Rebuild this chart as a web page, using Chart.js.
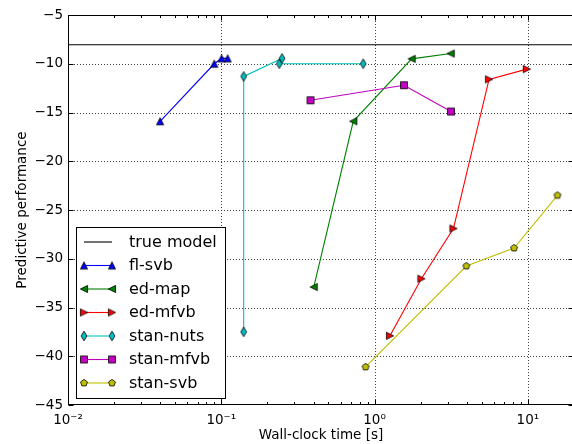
<!DOCTYPE html>
<html><head><meta charset="utf-8">
<script src="https://cdn.jsdelivr.net/npm/chart.js@4/dist/chart.umd.min.js"></script>
<style>html,body{margin:0;padding:0;background:#fff;overflow:hidden}#wrap{width:572px;height:444px;overflow:hidden}</style>
</head><body><div id="wrap"><canvas id="c" width="574" height="444"></canvas></div>
<script>
// ---- data ----
const trueModelY = -8.05;
const trueModelX = [0.01, 20];
const flSvbX = [0.0399, 0.090, 0.1005, 0.110];
const flSvbY = [-15.9, -10.0, -9.45, -9.45];
const edMapX = [0.401, 0.726, 1.745, 3.14];
const edMapY = [-32.9, -15.9, -9.5, -8.95];
const edMfvbX = [1.26, 2.02, 3.27, 5.58, 9.85];
const edMfvbY = [-37.9, -32.05, -26.9, -11.6, -10.55];
const stanNutsX = [0.140, 0.140, 0.249, 0.239, 0.843];
const stanNutsY = [-37.5, -11.3, -9.45, -10.0, -10.0];
const stanMfvbX = [0.382, 1.555, 3.15];
const stanMfvbY = [-13.75, -12.2, -14.9];
const stanSvbX = [0.874, 3.97, 8.13, 15.6];
const stanSvbY = [-41.1, -30.75, -28.9, -23.5];
const xTickValues = [0.01, 0.1, 1, 10];
const xTickLabels = ['10\u207B\u00B2', '10\u207B\u00B9', '10\u2070', '10\u00B9'];
const yTickValues = [-45, -40, -35, -30, -25, -20, -15, -10, -5];
const xMin = 0.01, xMax = 20, yMin = -45, yMax = -5;

const FONT = '"DejaVu Sans", sans-serif';

function pts(xs, ys) { return xs.map((x, i) => ({x: x, y: ys[i]})); }

function makeMarker(kind, fill) {
  const S = 16, c = document.createElement('canvas');
  c.width = S; c.height = S;
  const g = c.getContext('2d');
  g.translate(S / 2, S / 2);
  g.beginPath();
  const h = 3.6;
  if (kind === 'up') { g.moveTo(0, -h); g.lineTo(h, h); g.lineTo(-h, h); }
  else if (kind === 'left') { g.moveTo(-h, 0); g.lineTo(h, -h); g.lineTo(h, h); }
  else if (kind === 'right') { g.moveTo(h, 0); g.lineTo(-h, h); g.lineTo(-h, -h); }
  else if (kind === 'thin') { g.moveTo(0, -4.8); g.lineTo(2.9, 0); g.lineTo(0, 4.8); g.lineTo(-2.9, 0); }
  else if (kind === 'square') { g.rect(-3.5, -3.5, 7, 7); }
  else if (kind === 'pent') {
    const r = 3.6;
    for (let k = 0; k < 5; k++) {
      const a = -Math.PI / 2 + k * 2 * Math.PI / 5;
      const px = r * Math.cos(a), py = r * Math.sin(a);
      if (k === 0) g.moveTo(px, py); else g.lineTo(px, py);
    }
  }
  g.closePath();
  g.fillStyle = fill; g.fill();
  g.lineWidth = 0.8; g.strokeStyle = '#000'; g.stroke();
  return c;
}

const series = [
  {label: 'fl-svb', x: flSvbX, y: flSvbY, color: '#0000ff', marker: 'up'},
  {label: 'ed-map', x: edMapX, y: edMapY, color: '#008000', marker: 'left'},
  {label: 'ed-mfvb', x: edMfvbX, y: edMfvbY, color: '#ff0000', marker: 'right'},
  {label: 'stan-nuts', x: stanNutsX, y: stanNutsY, color: '#00bfbf', marker: 'thin'},
  {label: 'stan-mfvb', x: stanMfvbX, y: stanMfvbY, color: '#bf00bf', marker: 'square'},
  {label: 'stan-svb', x: stanSvbX, y: stanSvbY, color: '#bfbf00', marker: 'pent'}
];

const datasets = [{
  label: 'true model',
  data: pts(trueModelX, trueModelX.map(() => trueModelY)),
  borderColor: '#000', backgroundColor: '#000', borderWidth: 1.1,
  showLine: true, pointRadius: 0, order: 20
}];
series.forEach((s, i) => {
  datasets.push({
    label: s.label,
    data: pts(s.x, s.y),
    borderColor: s.color, backgroundColor: s.color, borderWidth: 1.1,
    showLine: true, pointStyle: makeMarker(s.marker, s.color), pointRadius: 4,
    order: 10 - i
  });
});

const axesPlugin = {
  id: 'mplAxes',
  afterLayout(chart) {
    // the reference's right spine sits just outside the visible figure
    const x = chart.scales.x, a = chart.chartArea, target = chart.width;
    if (a.right < target) {
      a.right = target; a.width = a.right - a.left;
      x.right = target; x.width = x.right - x.left;
      x.configure();
    }
  },
  beforeDatasetsDraw(chart) {
    const {ctx, chartArea: a, scales: {x, y}} = chart;
    ctx.save();
    ctx.strokeStyle = 'rgba(0,0,0,0.75)';
    ctx.lineWidth = 1;
    ctx.setLineDash([1, 2]);
    xTickValues.forEach(v => {
      if (v <= xMin || v >= xMax) return;
      const px = Math.round(x.getPixelForValue(v)) + 0.5;
      ctx.beginPath(); ctx.moveTo(px, a.top); ctx.lineTo(px, a.bottom); ctx.stroke();
    });
    yTickValues.forEach(v => {
      if (v <= yMin || v >= yMax) return;
      const py = Math.round(y.getPixelForValue(v)) + 0.5;
      ctx.beginPath(); ctx.moveTo(a.left, py); ctx.lineTo(a.right, py); ctx.stroke();
    });
    ctx.restore();
  },
  afterDatasetsDraw(chart) {
    const {ctx, chartArea: a, scales: {x, y}} = chart;
    ctx.save();
    ctx.strokeStyle = '#000';
    ctx.lineWidth = 1;
    const L = Math.round(a.left) + 0.5, R = Math.round(a.right) - 0.5;
    const T = Math.round(a.top) + 0.5, B = Math.round(a.bottom) - 0.5;
    ctx.strokeRect(L, T, R - L, B - T);
    const tick = (x0, y0, x1, y1) => { ctx.beginPath(); ctx.moveTo(x0, y0); ctx.lineTo(x1, y1); ctx.stroke(); };
    const d0 = Math.floor(Math.log10(xMin)), d1 = Math.ceil(Math.log10(xMax));
    for (let d = d0; d <= d1; d++) {
      for (let m = 1; m <= 9; m++) {
        const v = m * Math.pow(10, d);
        if (v < xMin * 0.999 || v > xMax * 1.001) continue;
        const px = Math.round(x.getPixelForValue(v)) + 0.5;
        const len = m === 1 ? 5 : 2.5;
        tick(px, B, px, B - len);
        tick(px, T, px, T + len);
      }
    }
    yTickValues.forEach(v => {
      const py = Math.round(y.getPixelForValue(v)) + 0.5;
      tick(L, py, L + 5, py);
      tick(R, py, R - 5, py);
    });
    ctx.restore();
  },
  afterDraw(chart) {
    const ctx = chart.ctx;
    ctx.save();
    ctx.fillStyle = '#fff'; ctx.strokeStyle = '#000'; ctx.lineWidth = 1;
    ctx.fillRect(76.5, 227.5, 149, 171);
    ctx.strokeRect(76.5, 227.5, 149, 171);
    ctx.font = '16px ' + FONT;
    ctx.textBaseline = 'middle';
    ctx.textAlign = 'left';
    chart.data.datasets.forEach((ds, i) => {
      const yy = 242 + i * 23.5;
      ctx.strokeStyle = ds.borderColor; ctx.lineWidth = 1.1;
      ctx.beginPath(); ctx.moveTo(84, yy); ctx.lineTo(112, yy); ctx.stroke();
      const st = ds.pointStyle;
      if (st && st.width) {
        ctx.drawImage(st, 84 - st.width / 2, yy - st.height / 2);
        ctx.drawImage(st, 112 - st.width / 2, yy - st.height / 2);
      }
      ctx.fillStyle = '#000';
      ctx.fillText(ds.label, 129, yy + 0.5);
    });
    ctx.restore();
  }
};

new Chart(document.getElementById('c'), {
  type: 'scatter',
  data: {datasets: datasets},
  options: {
    responsive: false, animation: false, devicePixelRatio: 1,
    layout: {padding: {left: 0, right: 0, top: 15, bottom: 0}},
    plugins: {legend: {display: false}, tooltip: {enabled: false}},
    scales: {
      x: {
        type: 'logarithmic', min: xMin, max: xMax,
        afterBuildTicks: s => { s.ticks = xTickValues.map(v => ({value: v})); },
        afterFit: s => { s.height = 39; },
        ticks: {
          autoSkip: false, maxRotation: 0, padding: 7, color: '#000',
          font: {family: FONT, size: 13.5},
          callback: v => { const i = xTickValues.indexOf(v); return i >= 0 ? xTickLabels[i] : ''; }
        },
        grid: {display: false, drawTicks: false, tickLength: 0},
        border: {display: false},
        title: {display: true, text: 'Wall-clock time [s]', color: '#000', font: {family: FONT, size: 13.5}, padding: {top: 0, bottom: 0}}
      },
      y: {
        type: 'linear', min: yMin, max: yMax,
        afterBuildTicks: s => { s.ticks = yTickValues.map(v => ({value: v})); },
        afterFit: s => { s.width = 68; },
        ticks: {
          padding: 5, color: '#000', font: {family: FONT, size: 13.5},
          callback: v => (v < 0 ? '\u2212' + Math.abs(v) : String(v))
        },
        grid: {display: false, drawTicks: false, tickLength: 0},
        border: {display: false},
        title: {display: true, text: 'Predictive performance', color: '#000', font: {family: FONT, size: 13.5}, padding: {top: 14, bottom: 0}}
      }
    }
  },
  plugins: [axesPlugin]
});
</script>
</body></html>
